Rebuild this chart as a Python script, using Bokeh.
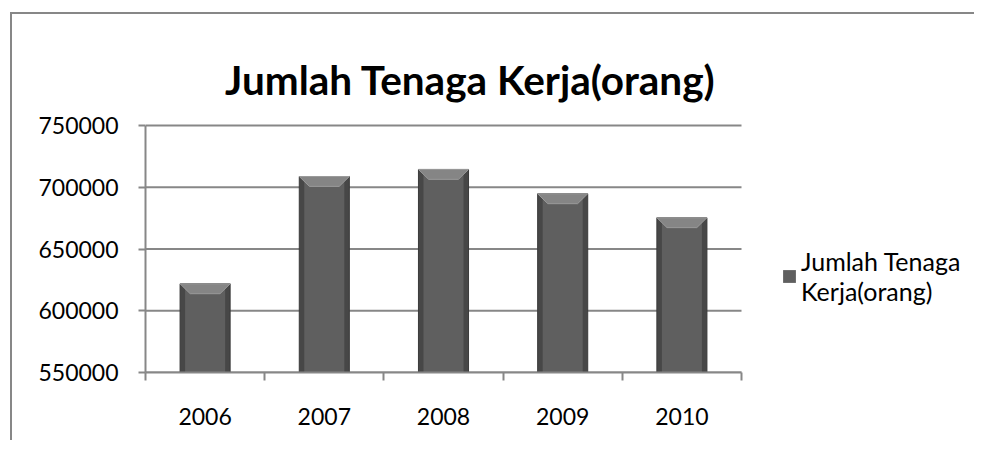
from bokeh.plotting import figure
from bokeh.models import Range1d, FixedTicker, Legend, LegendItem, ColumnDataSource, Label
from bokeh.embed import file_html
from bokeh.resources import INLINE

years = ["2006", "2007", "2008", "2009", "2010"]
tenaga_kerja = [621800, 708700, 714400, 694700, 675300]
y_ticks = [550000, 600000, 650000, 700000, 750000]
title_text = "Jumlah Tenaga Kerja(orang)"
legend_label = "Jumlah Tenaga\nKerja(orang)"

FONT = "Lato"
GRAY = "#878787"

n = len(years)
xs = list(range(1, n + 1))
bar_w = 0.42
bevel_dx = 0.085
bevel_dy = 8000
base = y_ticks[0]
x_lo, x_hi = 0.5, n + 0.5

W, H = 964, 428
MB_L, MB_R, MB_T, MB_B = 133, 4, 4, 70
cat_px = 596   # pixel width of the category area
val_px = 247   # pixel height of the value axis span
frame_w = W - MB_L - MB_R
frame_h = H - MB_T - MB_B
x_end = x_lo + n * frame_w / cat_px                            # room for the legend
y_span = y_ticks[-1] - y_ticks[0]
y_end = y_ticks[0] + y_span * frame_h / val_px                 # room for the title

src = ColumnDataSource(dict(x=xs, top=tenaga_kerja))

p = figure(width=W, height=H, output_backend="svg", toolbar_location=None,
           x_range=Range1d(x_lo, x_end),
           y_range=Range1d(y_ticks[0], y_end),
           min_border_left=MB_L, min_border_right=MB_R,
           min_border_top=MB_T, min_border_bottom=MB_B)
p.styles = {"margin-left": "10px", "margin-top": "12px",
            "border-left": f"2px solid {GRAY}", "border-top": f"2px solid {GRAY}"}
p.outline_line_color = None
p.background_fill_color = "white"
p.border_fill_color = "white"

# title, placed by pixel offsets from the plot area
title_cx_px = 325      # from left of category area
title_base_px = 293    # above the value-axis base
p.add_layout(Label(x=x_lo + title_cx_px * n / cat_px,
                   y=y_ticks[0] + title_base_px * y_span / val_px,
                   text=title_text, text_font=FONT, text_font_size="40.5px",
                   text_font_style="bold", text_align="center",
                   text_baseline="alphabetic", text_color="black"))

# horizontal gridlines over the category area only
p.segment(x0=[x_lo] * len(y_ticks), x1=[x_hi] * len(y_ticks), y0=y_ticks, y1=y_ticks,
          line_color=GRAY, line_width=2)

# bars: dark edge, lighter body, bevel top
outer = p.vbar(x="x", top="top", bottom=base, width=bar_w, source=src,
               fill_color="#474747", line_color="#3a3a3a", line_width=1)
inner = p.vbar(x="x", top="top", bottom=base, width=bar_w * 0.8, source=src,
               fill_color="#5f5f5f", line_color=None)
bev_xs = [[x - bar_w / 2, x + bar_w / 2, x + bar_w / 2 - bevel_dx, x - bar_w / 2 + bevel_dx]
          for x in xs]
bev_ys = [[v, v, v - bevel_dy, v - bevel_dy] for v in tenaga_kerja]
p.patches(bev_xs, bev_ys, fill_color="#858585", line_color="#9a9a9a", line_width=1)

# axes
p.xaxis.bounds = (x_lo, x_hi)
p.xaxis.ticker = FixedTicker(ticks=xs, minor_ticks=[x - 0.5 for x in xs] + [x_hi])
p.xaxis.major_label_overrides = {x: y for x, y in zip(xs, years)}
p.xaxis.major_tick_line_color = None
p.xaxis.minor_tick_in = 0
p.xaxis.minor_tick_out = 8
p.xaxis.minor_tick_line_color = GRAY
p.xaxis.minor_tick_line_width = 2
p.xaxis.major_label_standoff = 27
p.yaxis.bounds = (y_ticks[0], y_ticks[-1])
p.yaxis.ticker = FixedTicker(ticks=y_ticks)
p.yaxis.minor_tick_line_color = None
p.yaxis.major_tick_in = 0
p.yaxis.major_tick_out = 7
p.yaxis.major_tick_line_color = GRAY
p.yaxis.major_tick_line_width = 2
p.yaxis.major_label_standoff = 20
p.yaxis.formatter.use_scientific = False
for ax in (p.xaxis, p.yaxis):
    ax.axis_line_color = GRAY
    ax.axis_line_width = 2
    ax.major_label_text_font = FONT
    ax.major_label_text_font_size = "23px"
    ax.major_label_text_color = "black"
p.xgrid.grid_line_color = None
p.ygrid.grid_line_color = None

legend = Legend(items=[LegendItem(label=legend_label, renderers=[inner])],
                location=(636, 66), border_line_color=None, background_fill_alpha=0,
                padding=0, margin=0, glyph_width=16, glyph_height=16,
                label_text_font=FONT, label_text_font_size="25px",
                label_text_color="black",
                label_standoff=4, label_text_line_height=1.2)
p.add_layout(legend, "center")

open("out.html", "w").write(file_html(p, INLINE))
